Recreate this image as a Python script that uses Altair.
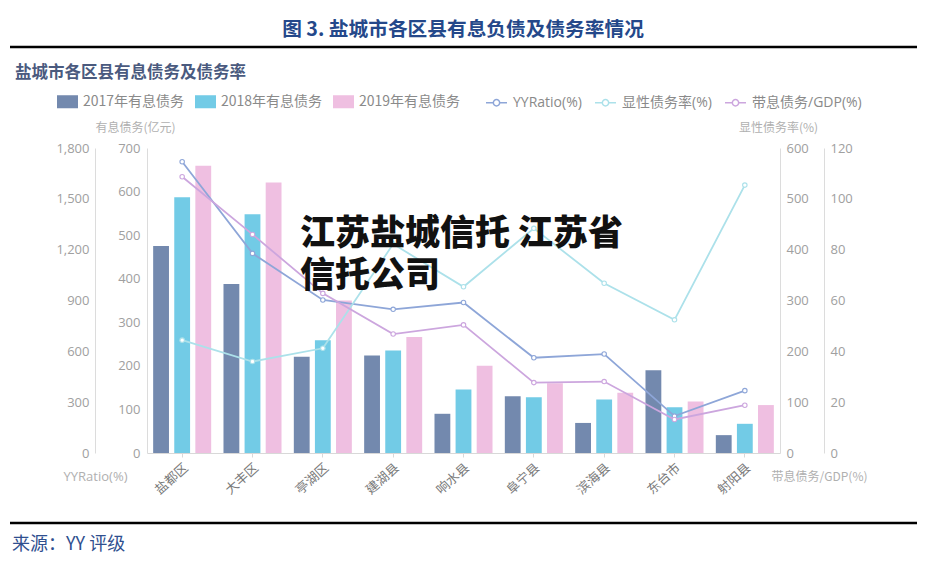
import altair as alt
import pandas as pd

# ---------------- data ----------------
regions = ["盐都区", "大丰区", "亭湖区", "建湖县", "响水县", "阜宁县", "滨海县", "东台市", "射阳县"]
bar_series = ["2017年有息债务", "2018年有息债务", "2019年有息债务"]
debt_2017 = [475, 388, 221, 224, 90, 130, 69, 190, 41]
debt_2018 = [587, 548, 259, 235, 146, 128, 123, 105, 67]
debt_2019 = [659, 621, 350, 266, 200, 160, 138, 118, 110]

line_series = ["YYRatio(%)", "显性债务率(%)", "带息债务/GDP(%)"]
yy_ratio = [1719, 1178, 903, 848, 888, 562, 584, 218, 368]
explicit_rate = [222, 180, 206, 411, 327, 442, 334, 262, 527]
debt_gdp = [108.7, 86, 62.8, 46.8, 50.4, 27.7, 28.1, 13.2, 18.8]

bar_colors = ["#7389ae", "#72cbe6", "#efbfe1"]
line_colors = ["#8ea6d8", "#ace1ea", "#cca6de"]

title_text = "图 3. 盐城市各区县有息负债及债务率情况"
subtitle_text = "盐城市各区县有息债务及债务率"
source_text = "来源：YY 评级"
watermark_text = "江苏盐城信托 江苏省\n信托公司"

# ---------------- tables ----------------
bars_df = pd.DataFrame(
    [
        {"region": r, "series": s, "value": v}
        for s, vals in zip(bar_series, [debt_2017, debt_2018, debt_2019])
        for r, v in zip(regions, vals)
    ]
)
lines_df = pd.DataFrame(
    [
        {"region": r, "metric": m, "value": v}
        for m, vals in zip(line_series, [yy_ratio, explicit_rate, debt_gdp])
        for r, v in zip(regions, vals)
    ]
)

W, H = 633, 305
FONT = "Open Sans, Noto Sans CJK SC"
CJK = "Noto Sans CJK SC"

x_enc = alt.X(
    "region:N",
    sort=regions,
    scale=alt.Scale(paddingInner=0.175, paddingOuter=0.0875),
    axis=alt.Axis(
        title=None,
        labelAngle=-42,
        labelAlign="right",
        labelBaseline="top",
        labelFont=CJK,
        labelFontSize=13,
        labelColor="#7a7a7a",
        labelPadding=4,
        domainColor="#d8d8d8",
        tickColor="#d8d8d8",
        tickSize=4,
        labelOverlap=False,
    ),
)

bars = (
    alt.Chart(bars_df)
    .mark_bar()
    .encode(
        x=x_enc,
        xOffset=alt.XOffset("series:N", sort=bar_series,
                            scale=alt.Scale(paddingInner=0.25, paddingOuter=0)),
        y=alt.Y(
            "value:Q",
            scale=alt.Scale(domain=[0, 700], nice=False),
            axis=alt.Axis(
                orient="left",
                values=[0, 100, 200, 300, 400, 500, 600, 700],
                title="有息债务(亿元)",
                titleAngle=0,
                titleX=-12,
                titleY=-21,
                titleAlign="center",
                titleBaseline="middle",
                titleFont=CJK,
                titleFontSize=12,
                titleFontWeight="normal",
                titleColor="#b0b0b0",
                grid=False,
                ticks=False,
                labelPadding=7,
                labelFont=FONT,
                labelFontSize=13,
                labelColor="#a0a0a0",
                domainColor="#dcdcdc",
            ),
        ),
        color=alt.Color(
            "series:N",
            sort=bar_series,
            scale=alt.Scale(domain=bar_series, range=bar_colors),
            legend=alt.Legend(
                title=None,
                orient="none",
                direction="horizontal",
                legendX=-90,
                legendY=-57,
                symbolType="M-1,-0.62H1V0.62H-1Z",
                symbolSize=441,
                symbolStrokeWidth=0,
                labelFont=CJK,
                labelFontSize=14,
                labelColor="#8a8a8a",
                labelOffset=5,
                columnPadding=10,
            ),
        ),
    )
)


def line_layer(metric, domain, values, orient, offset, title, title_x, title_y, fmt=None):
    axis_kwargs = dict(
        orient=orient,
        offset=offset,
        values=values,
        title=title,
        titleAngle=0,
        titleX=title_x,
        titleY=title_y,
        titleAlign="center",
        titleBaseline="middle",
        titleFont=CJK if "债" in title else FONT,
        titleFontSize=12 if "债" in title else 13,
        titleFontWeight="normal",
        titleColor="#b0b0b0",
        grid=False,
        ticks=False,
        labelPadding=6,
        labelFont=FONT,
        labelFontSize=13,
        labelColor="#a0a0a0",
        domainColor="#dcdcdc",
    )
    if fmt:
        axis_kwargs["format"] = fmt
    return (
        alt.Chart(lines_df)
        .transform_filter(alt.datum.metric == metric)
        .mark_line(
            strokeWidth=1.8,
            point=alt.OverlayMarkDef(filled=False, fill="white", size=20, strokeWidth=1.1),
        )
        .encode(
            x=x_enc,
            y=alt.Y("value:Q", scale=alt.Scale(domain=domain, nice=False),
                    axis=alt.Axis(**axis_kwargs)),
            stroke=alt.Stroke(
                "metric:N",
                sort=line_series,
                scale=alt.Scale(domain=line_series, range=line_colors),
                legend=alt.Legend(
                    title=None,
                    orient="none",
                    direction="horizontal",
                    legendX=338,
                    legendY=-57,
                    symbolType="M-1,0H-0.3M0.3,0H1M0.3,0A0.3,0.3,0,1,1,-0.3,0A0.3,0.3,0,1,1,0.3,0",
                    symbolSize=441,
                    symbolStrokeWidth=1.5,
                    symbolFillColor="white",
                    labelFont=FONT,
                    labelFontSize=14,
                    labelColor="#8a8a8a",
                    labelOffset=5,
                    columnPadding=10,
                ),
            ),
        )
    )


line_yy = line_layer("YYRatio(%)", [0, 1800], [0, 300, 600, 900, 1200, 1500, 1800],
                     "left", 52, "YYRatio(%)", 0, H + 23, fmt=",.0f")
line_exp = line_layer("显性债务率(%)", [0, 600], [0, 100, 200, 300, 400, 500, 600],
                      "right", 0, "显性债务率(%)", -2, -21)
line_gdp = line_layer("带息债务/GDP(%)", [0, 120], [0, 20, 40, 60, 80, 100, 120],
                      "right", 44, "带息债务/GDP(%)", -5, H + 23)

# ---------------- annotations ----------------
one = pd.DataFrame({"k": [0]})

title_mark = alt.Chart(pd.DataFrame({"t": [title_text]})).mark_text(
    font=CJK, fontSize=19.7, fontWeight="bold", color="#24488a", align="center", baseline="middle"
).encode(text="t:N", x=alt.value(316), y=alt.value(-118))

top_rule = alt.Chart(one).mark_rule(color="#000000", strokeWidth=2.5).encode(
    x=alt.value(-137), x2=alt.value(770), y=alt.value(-101)
)
bottom_rule = alt.Chart(one).mark_rule(color="#000000", strokeWidth=2.5).encode(
    x=alt.value(-137), x2=alt.value(770), y=alt.value(375)
)

subtitle_mark = alt.Chart(pd.DataFrame({"t": [subtitle_text]})).mark_text(
    font=CJK, fontSize=16.5, fontWeight="bold", color="#4a5a7e", align="left", baseline="middle"
).encode(text="t:N", x=alt.value(-132), y=alt.value(-75))

source_mark = alt.Chart(pd.DataFrame({"t": [source_text]})).mark_text(
    font=CJK, fontSize=18, color="#2f4f8f", align="left", baseline="middle"
).encode(text="t:N", x=alt.value(-135), y=alt.value(397))

watermark = alt.Chart(pd.DataFrame({"t": [watermark_text]})).mark_text(
    font=CJK, fontSize=35, fontWeight=900, color="#111111", align="left",
    baseline="alphabetic", lineBreak="\n", lineHeight=42,
).encode(text="t:N", x=alt.value(153), y=alt.value(97))

chart = (
    alt.layer(bars, line_yy, line_exp, line_gdp,
              title_mark, top_rule, bottom_rule, subtitle_mark, source_mark, watermark)
    .resolve_scale(y="independent", color="independent")
    .properties(
        width=W,
        height=H,
        autosize=alt.AutoSizeParams(type="none"),
        padding={"left": 139, "top": 140, "right": 137, "bottom": 108},
        background="white",
    )
    .configure_view(stroke=None)
)

chart.save("out.html", embed_options={"renderer": "svg", "actions": False})
